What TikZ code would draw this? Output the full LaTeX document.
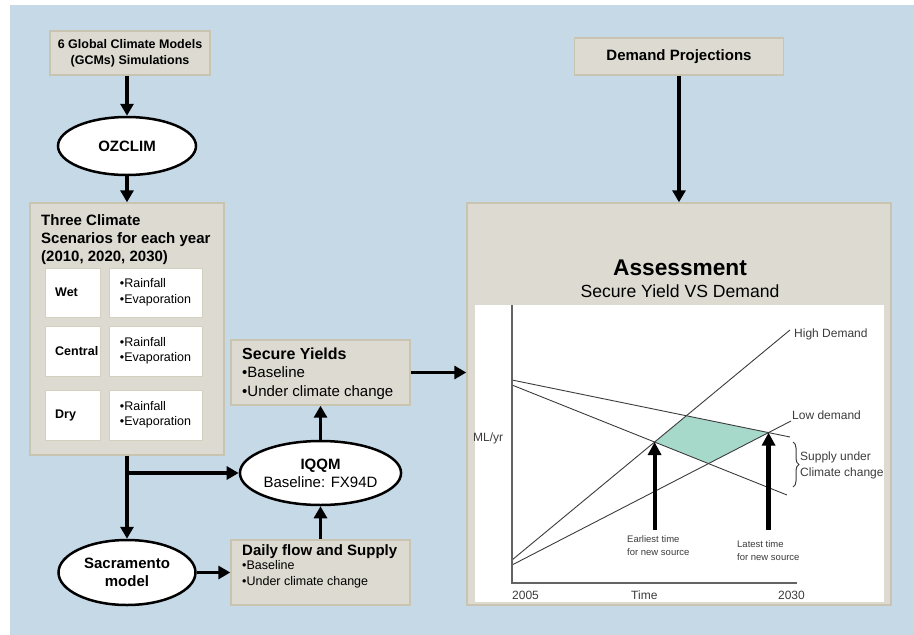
\documentclass[tikz,border=0pt]{standalone}
\usepackage{fontspec}
\setmainfont{Liberation Sans}
\usetikzlibrary{arrows.meta,shapes.geometric,decorations.pathreplacing,calc}
\definecolor{bgblue}{HTML}{C6D9E7}
\definecolor{boxfill}{HTML}{DDDAD1}
\definecolor{boxedge}{HTML}{C8C4B0}
\definecolor{tealfill}{HTML}{A7D9CB}
\definecolor{chartink}{HTML}{3C3C3C}
\begin{document}
\begin{tikzpicture}[x=1pt,y=-1pt,
  box/.style={draw=boxedge, line width=1.4pt, fill=boxfill, inner sep=0pt},
  whitebox/.style={draw=boxedge!80, line width=1pt, fill=white, inner sep=0pt},
  oval/.style={ellipse, draw=black, line width=2.5pt, fill=white, inner sep=0pt},
  flow/.style={line width=3.8pt, -{Triangle[width=13pt,length=12pt]}},
  chartarrow/.style={line width=4.2pt, -{Triangle[width=13pt,length=13pt]}},
  chartline/.style={draw=chartink, line width=0.9pt},
  axisline/.style={draw=chartink!80, line width=1.3pt},
  boldA/.style={font=\fontsize{12.5}{16}\selectfont\bfseries},
  boldB/.style={font=\fontsize{15}{18}\selectfont\bfseries},
  regA/.style={font=\fontsize{12.5}{15.5}\selectfont},
  chartlbl/.style={text=chartink, inner sep=0pt, font=\fontsize{12}{16.5}\selectfont},
  smalllbl/.style={text=chartink, inner sep=0pt, align=left, font=\fontsize{9.5}{13}\selectfont}
]
\fill[white] (0,0) rectangle (914,635);
\fill[bgblue] (10,5) rectangle (914,635);
\useasboundingbox (0,0) rectangle (914,635);

% left column
\node[box, boldA, minimum width=160pt, minimum height=44pt, align=center] (gcm) at (130,53) {6 Global Climate Models\\(GCMs) Simulations};
\node[oval, boldB, minimum width=138pt, minimum height=58pt] (oz) at (127,146) {OZCLIM};
\node[box, minimum width=194pt, minimum height=252pt] (three) at (127,329) {};
\node[anchor=north west, align=left, inner sep=0pt, boldB] (threet) at (41,214.5) {Three Climate\\Scenarios for each year\\(2010, 2020, 2030)};

\node[whitebox, minimum width=55pt, minimum height=49pt] (wetl) at (72.5,292.5) {};
\node[whitebox, regA, minimum width=93pt, minimum height=49pt, align=left] (wetv) at (155.5,292.5) {•Rainfall\\•Evaporation};
\node[anchor=west, inner sep=0pt, boldA] (wett) at (55,292.5) {Wet};

\node[whitebox, minimum width=55pt, minimum height=50pt] (cenl) at (72.5,351) {};
\node[whitebox, regA, minimum width=93pt, minimum height=50pt, align=left] (cenv) at (155.5,351) {•Rainfall\\•Evaporation};
\node[anchor=west, inner sep=0pt, boldA] (cent) at (55,351) {Central};

\node[whitebox, minimum width=55pt, minimum height=50pt] (dryl) at (72.5,415) {};
\node[whitebox, regA, minimum width=93pt, minimum height=50pt, align=left] (dryv) at (155.5,415) {•Rainfall\\•Evaporation};
\node[anchor=west, inner sep=0pt, boldA] (dryt) at (55,415) {Dry};

\node[box, minimum width=179pt, minimum height=65pt] (sy) at (320.5,372.5) {};
\node[anchor=west, inner sep=0pt, align=left, font=\fontsize{15}{18.5}\selectfont] (syt) at (242,373.5) {{\fontsize{16}{19}\selectfont\bfseries Secure Yields}\\•Baseline\\•Under climate change};

\node[oval, minimum width=152pt, minimum height=64pt, align=center, font=\fontsize{15}{18}\selectfont] (iqqm) at (320.5,473) {\textbf{IQQM}\\Baseline: FX94D};
\node[oval, boldB, minimum width=137pt, minimum height=65pt, align=center] (sac) at (127,572.5) {Sacramento\\model};

\node[box, minimum width=179pt, minimum height=65pt] (daily) at (320.5,572.5) {};
\node[anchor=west, inner sep=0pt, align=left, regA] (dailyt) at (242,566) {{\fontsize{15}{18}\selectfont\bfseries Daily flow and Supply}\\[-1pt]•Baseline\\•Under climate change};

% right column
\node[box, boldB, minimum width=209pt, minimum height=37pt] (demand) at (679,56.5) {Demand Projections};
\node[box, minimum width=424pt, minimum height=402pt] (assess) at (679,404) {};
\node[inner sep=0pt, font=\fontsize{22.7}{26}\selectfont\bfseries] (assesst) at (680,268) {Assessment};
\node[inner sep=0pt, font=\fontsize{17.6}{20}\selectfont] (assesss) at (680,291) {Secure Yield VS Demand};
\node[fill=white, inner sep=0pt, minimum width=409pt, minimum height=297pt] (plot) at (679.5,453.5) {};

% connectors
\draw[flow] (oz.north |- gcm.south) -- (oz.north);
\draw[flow] (oz.south) -- (three.north);
\draw[flow] (three.south) -- (sac.north);
\coordinate (br) at (three.south |- iqqm.west);
\draw[flow] (br) -- (iqqm.west);
\draw[flow] (sac.east) -- (daily.west);
\draw[flow] (daily.north) -- (iqqm.south);
\draw[flow] (iqqm.north) -- (sy.south);
\draw[flow] (sy.east) -- (sy.east -| assess.west);
\draw[flow] (demand.south) -- (assess.north);

% chart
\coordinate (o) at (512,583);
\coordinate (ytop) at (512,305);
\coordinate (xend) at (797,583);
\coordinate (s1a) at (512,380); \coordinate (s1b) at (790,437);
\coordinate (s2a) at (512,385); \coordinate (s2b) at (787,495);
\coordinate (hda) at (512,560); \coordinate (hdb) at (790,330);
\coordinate (lda) at (512,565); \coordinate (ldb) at (791,421);
\coordinate (p1) at (intersection of hda--hdb and s2a--s2b);
\coordinate (p2) at (intersection of hda--hdb and s1a--s1b);
\coordinate (p3) at (intersection of lda--ldb and s1a--s1b);
\coordinate (p4) at (intersection of lda--ldb and s2a--s2b);
\fill[tealfill] (p1) -- (p2) -- (p3) -- (p4) -- cycle;
\draw[chartline] (s1a) -- (s1b);
\draw[chartline] (s2a) -- (s2b);
\draw[chartline] (hda) -- (hdb);
\draw[chartline] (lda) -- (ldb);
\draw[axisline] (ytop) -- (o) -- (xend);
\coordinate (abase) at (0,530);
\coordinate (ea) at (p1 |- abase);
\coordinate (la) at (p3 |- abase);
\draw[chartarrow] (ea) -- (p1);
\draw[chartarrow] (la) -- (p3);
\draw[chartink, line width=1pt, decorate, decoration={brace, amplitude=6pt}] (793,442) coordinate (bt) -- (793,487) coordinate (bb);

\node[chartlbl, anchor=west] (hdl) at (794,334) {High Demand};
\node[chartlbl, anchor=west] (ldl) at (792,415) {Low demand};
\node[chartlbl, anchor=west, align=left] (supl) at (800,465.5) {Supply under\\Climate change};
\node[chartlbl, anchor=west] (mly) at (473,438) {ML/yr};
\node[chartlbl, anchor=west] (y05) at (512,595) {2005};
\node[chartlbl, anchor=west] (tim) at (631,595) {Time};
\node[chartlbl, anchor=east] (y30) at (805,595) {2030};
\node[smalllbl, anchor=west] (earl) at (627,545.5) {Earliest time\\for new source};
\node[smalllbl, anchor=west] (latl) at (737,550.5) {Latest time\\for new source};
\end{tikzpicture}
\end{document}
